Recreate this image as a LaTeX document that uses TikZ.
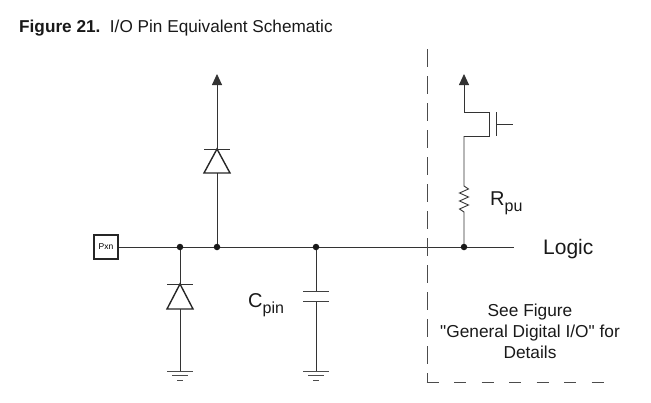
\documentclass[tikz,border=0pt]{standalone}
\usepackage{fontspec}
\setmainfont{Liberation Sans}
\newfontfamily\plainfont{Liberation Sans}
\usetikzlibrary{arrows.meta}
\tikzset{
  x=1pt,y=-1pt,
  wire/.style={line width=0.9pt,draw=black!80},
  thick line/.style={line width=1.4pt,draw=black!85,line join=miter},
  plate/.style={line width=1pt,draw=black!75},
  dotnode/.style={circle,fill=black!90,inner sep=0pt,minimum size=6.5pt},
  pin/.style={draw=black!85,line width=1.4pt,fill=white,minimum size=24pt,inner sep=0pt,font=\fontsize{8.5}{9}\selectfont},
  supply/.style={-{Triangle[length=11pt,width=10pt]},wire},
  lab/.style={inner sep=0pt,anchor=base west,text=black!90},
  gnd/.style={line width=0.9pt,draw=black!70},
  boundary/.style={line width=0.9pt,draw=black!70},
}
\newcommand{\gndsym}[1]{%
  \draw[gnd] ([xshift=-13pt]#1) -- ([xshift=13pt]#1);
  \draw[gnd] ([xshift=-8pt,yshift=-4.5pt]#1) -- ([xshift=8pt,yshift=-4.5pt]#1);
  \draw[gnd] ([xshift=-3pt,yshift=-9pt]#1) -- ([xshift=3pt,yshift=-9pt]#1);
}
\begin{document}
\begin{tikzpicture}
\useasboundingbox (0,0) rectangle (651,402);
% text
\node[lab,font=\fontsize{17.2}{18}\selectfont] (title) at (19,32.5) {\textbf{Figure 21.}\hspace{9.5pt}I/O Pin Equivalent Schematic};
% coordinates
\node[pin] (pxn) at (106,247) {Pxn};
\coordinate (end) at (514,247);
\coordinate (j1) at (180,247);
\coordinate (j2) at (217,247);
\coordinate (j3) at (316,247);
\coordinate (j4) at (464,247);
\coordinate (vcc1) at (217,74);
\coordinate (vcc2) at (464,74);
\coordinate (g1) at (180,371);
\coordinate (g2) at (316,371);
\coordinate (dtop) at (427,49);
\coordinate (dcorner) at (427,382);
\coordinate (dend) at (612,382);
% main wire
\draw[wire] (pxn) -- (end);
% upper diode branch
\draw[wire] (j2) -- (217,173);
\draw[thick line] (204,173) -- (230,173) -- (217,149) -- cycle;
\draw[wire] (204,149) -- (230,149);
\draw[supply] (217,149) -- (vcc1);
% lower diode branch
\draw[wire] (j1) -- (180,284);
\draw[thick line] (167,309) -- (193,309) -- (180,284) -- cycle;
\draw[wire] (167,284) -- (193,284);
\draw[wire] (180,309) -- (g1);
\gndsym{g1}
% capacitor branch
\draw[wire] (j3) -- (316,291.5);
\draw[plate] (303,291.5) -- (329,291.5);
\draw[plate] (303,301.5) -- (329,301.5);
\draw[wire] (316,301.5) -- (g2);
\gndsym{g2}
% pull-up branch
\draw[wire,line join=miter] (j4) -- (464,212)
  -- (459.5,209) -- (468.5,205) -- (459.5,201) -- (468.5,197) -- (459.5,193) -- (468.5,189) -- (464,186) -- (464,136);
\draw[wire,line width=1pt] (464,136) -- (489,136) -- (489,112) -- (464,112);
\draw[supply] (464,112) -- (vcc2);
\draw[wire] (496,112) -- (496,136);
\draw[wire] (496,124) -- (513,124);
% dots
\foreach \j in {j1,j2,j3,j4} \node[dotnode] at (\j) {};
% dashed boundary
\draw[boundary,dash pattern=on 18pt off 9pt] (dtop) -- (dcorner);
\draw[boundary,dash pattern=on 12pt off 15.5pt] (426.5,382) -- (dend);
% labels
\node[lab,font=\fontsize{20}{22}\selectfont] (rpu) at (490,205) {R\raisebox{-6pt}{\fontsize{16}{16}\selectfont pu}};
\node[lab,font=\fontsize{20}{22}\selectfont] (cpin) at (248,307) {C\raisebox{-6pt}{\fontsize{16}{16}\selectfont pin}};
\node[lab,font=\fontsize{21}{22}\selectfont] (logic) at (543,254) {Logic};
\node[inner sep=0pt,align=center,font=\fontsize{17.3}{21}\selectfont,text=black!90,anchor=base] (see) at (530,358) {See Figure\\{\plainfont "General Digital I/O" for}\\Details};
\end{tikzpicture}
\end{document}
